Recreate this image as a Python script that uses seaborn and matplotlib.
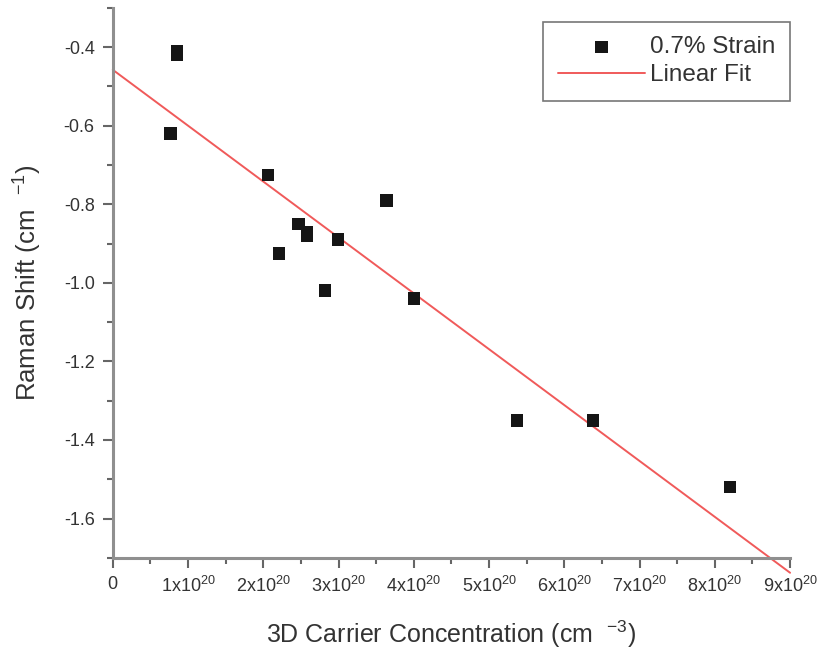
import numpy as np
import pandas as pd
import seaborn as sns
import matplotlib.pyplot as plt

# carrier concentration in units of 1e20 cm^-3, Raman shift in cm^-1
carrier = [0.85, 0.85, 0.77, 2.06, 2.21, 2.47, 2.58, 2.58, 2.82, 2.99, 3.64, 4.00, 5.37, 6.38, 8.20]
shift = [-0.41, -0.42, -0.62, -0.725, -0.925, -0.85, -0.87, -0.88, -1.02, -0.89, -0.79, -1.04, -1.35, -1.35, -1.52]
xtick_vals = [0, 1, 2, 3, 4, 5, 6, 7, 8, 9]
xtick_labels = ['0'] + [f'{i}x10$^{{20}}$' for i in range(1, 10)]
ytick_vals = [-1.6, -1.4, -1.2, -1.0, -0.8, -0.6, -0.4]

df = pd.DataFrame({'carrier': carrier, 'shift': shift})

sns.set_style('ticks')
plt.rcParams['font.family'] = ['Liberation Sans', 'DejaVu Sans']
plt.rcParams['mathtext.default'] = 'regular'
txt = '#333333'

fig = plt.figure(figsize=(8.23, 6.57), dpi=100)
ax = fig.add_axes([0.137, 0.151, 0.823, 0.837])
ax.set_xlim(0, 9)
ax.set_ylim(-1.7, -0.3)

sns.regplot(data=df, x='carrier', y='shift', ax=ax, scatter=False, ci=None,
            truncate=False, color='#f05a5a',
            line_kws={'lw': 1.4, 'clip_on': False, 'zorder': 2})
fit_line = ax.lines[-1]
fit_line.set_label('Linear Fit')
sns.scatterplot(data=df, x='carrier', y='shift', ax=ax, marker='s', s=80,
                color='#151515', edgecolor='none', label='0.7% Strain', zorder=3)

ax.set_xlim(0, 9)
ax.set_ylim(-1.7, -0.3)
ax.set_xticks(xtick_vals)
ax.set_xticklabels(xtick_labels)
ax.set_xticks(np.arange(0.5, 9, 1), minor=True)
ax.set_yticks(ytick_vals)
ax.set_yticklabels([f'{v:.1f}' for v in ytick_vals])
ax.set_yticks(np.arange(-1.7, -0.29, 0.2), minor=True)

sns.despine(ax=ax)
for s in ['left', 'bottom']:
    ax.spines[s].set_color('#8f8f8f')
    ax.spines[s].set_linewidth(2.2)
ax.tick_params(which='major', length=7, width=1.5, color='#666666',
               labelsize=13, labelcolor=txt, pad=6)
ax.tick_params(which='minor', length=4, width=1.5, color='#666666')

ax.set_xlabel('3D Carrier Concentration (cm  $^{-3}$)', fontsize=18, color=txt, labelpad=16)
ax.set_ylabel('Raman Shift (cm  $^{-1}$)', fontsize=18.5, color=txt, labelpad=14)

scat = ax.collections[-1]
leg = ax.legend([scat, fit_line], ['0.7% Strain', 'Linear Fit'], loc='upper right',
                bbox_to_anchor=(1.0, 0.975), borderaxespad=0, fontsize=17.5,
                frameon=True, fancybox=False, edgecolor='#555555',
                handlelength=3.6, handletextpad=0.2, borderpad=0.6,
                labelspacing=0.25)
leg.get_frame().set_linewidth(1.2)
for t in leg.get_texts():
    t.set_color(txt)

fig.savefig('out.png', dpi=100)
